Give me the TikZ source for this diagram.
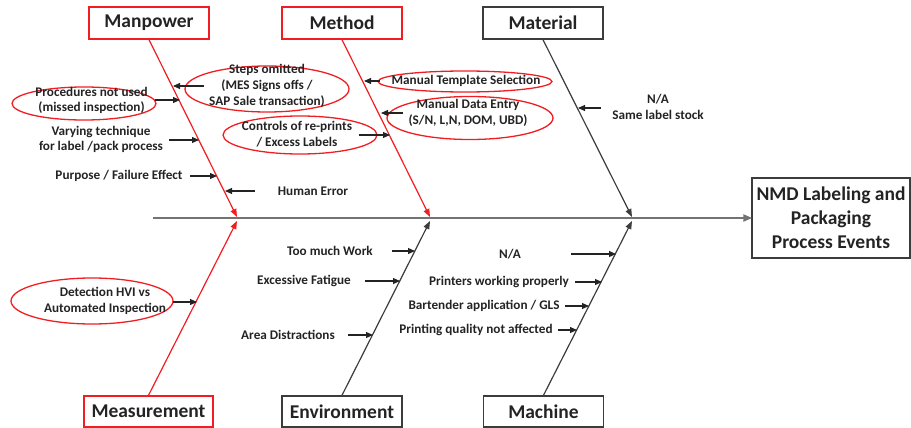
\documentclass[tikz,border=0pt]{standalone}
\usepackage{fontspec}
\setmainfont{Carlito}
\usetikzlibrary{arrows.meta,shapes.geometric}
\definecolor{fbred}{RGB}{240,30,34}
\definecolor{ink}{RGB}{35,35,35}
\definecolor{boxgray}{RGB}{60,60,60}
\definecolor{spinegray}{RGB}{115,115,115}
\begin{document}
\begin{tikzpicture}[x=1pt,y=-1pt,
  lbl/.style={font=\bfseries\fontsize{13.2}{15.8}\selectfont, text=ink, align=center, inner sep=0pt},
  cat/.style={draw, line width=1.4pt, minimum width=120pt, minimum height=32pt,
    font=\bfseries\fontsize{19.5}{24}\selectfont, text=ink, inner sep=0pt},
  redcat/.style={cat, draw=fbred},
  blkcat/.style={cat, draw=boxgray},
  oval/.style={ellipse, draw=fbred, line width=1.3pt, inner sep=0pt},
  sub/.style={line width=1.1pt, draw=ink, -{Triangle[length=7pt,width=6pt]}},
  bonered/.style={line width=1.2pt, draw=fbred, -{Triangle[length=8pt,width=6pt]}},
  boneblk/.style={line width=1.2pt, draw=boxgray, -{Triangle[length=8pt,width=6pt]}}
]
\useasboundingbox (0,0) rectangle (911,428);

% effect box and spine
\node[draw=boxgray, line width=1.4pt, minimum width=158pt, minimum height=80pt,
      align=center, inner sep=0pt, font=\bfseries\fontsize{19.5}{24}\selectfont, text=ink]
      (effect) at (831,218) {NMD Labeling and\\Packaging\\Process Events};
\coordinate (tail) at (153,218);
\draw[line width=2.4pt, draw=spinegray, -{Triangle[length=9pt,width=7pt]}, shorten >=-1pt]
  (tail) -- (effect.west);

% category boxes
\node[redcat] (manpower) at (149,23) {Manpower};
\node[redcat] (method) at (342,23) {Method};
\node[blkcat] (material) at (543,23) {Material};
\node[redcat, minimum width=129pt, minimum height=31pt] (measure) at (148.5,411.5) {Measurement};
\node[blkcat, minimum height=31pt] (environ) at (342,411.5) {Environment};
\node[blkcat, minimum height=31pt] (machine) at (543.5,411.5) {Machine};

% bone ends on the spine
\coordinate (mpEnd) at (237,217);
\coordinate (mtEnd) at (430,217);
\coordinate (maEnd) at (632,217);
\coordinate (msEnd) at (237,221);
\coordinate (enEnd) at (430,221);
\coordinate (mcEnd) at (632,221);

\draw[bonered] (manpower.south) -- (mpEnd);
\draw[bonered] (method.south) -- (mtEnd);
\draw[boneblk] (material.south) -- (maEnd);
\draw[bonered] (measure.north) -- (msEnd);
\draw[boneblk] (environ.north) -- (enEnd);
\draw[boneblk] (machine.north) -- (mcEnd);

% ---- Manpower causes
\node[oval, minimum width=164pt, minimum height=46pt] (ovSteps) at (267,89) {};
\node[lbl] (steps) at (267,86) {Steps omitted\\(MES Signs offs /\\SAP Sale transaction)};
\node[oval, minimum width=144pt, minimum height=33pt] (ovProc) at (84,103.5) {};
\node[lbl] (proc) at (91.5,100.5) {Procedures not used\\(missed inspection)};
\node[lbl] (vary) at (101,139.5) {Varying technique\\for label /pack process};
\node[lbl] (purpose) at (119,176) {Purpose / Failure Effect};
\node[lbl] (human) at (313,191) {Human Error};

\coordinate (stepsA) at (204,86);  \coordinate (stepsB) at (173,86);
\coordinate (procA) at (155,100);  \coordinate (procB) at (180,100);
\coordinate (varyA) at (169,140);  \coordinate (varyB) at (199,140);
\coordinate (purpA) at (190,176);  \coordinate (purpB) at (217,176);
\coordinate (humA) at (255,191);   \coordinate (humB) at (225,191);
\draw[sub] (stepsA) -- (stepsB);
\draw[sub] (procA) -- (procB);
\draw[sub] (varyA) -- (varyB);
\draw[sub] (purpA) -- (purpB);
\draw[sub] (humA) -- (humB);

% ---- Method causes
\node[oval, minimum width=174pt, minimum height=21pt] (ovTempl) at (465,81.5) {};
\node[lbl] (templ) at (466,81) {Manual Template Selection};
\node[oval, minimum width=166pt, minimum height=43pt] (ovData) at (470,118) {};
\node[lbl] (data) at (468,112.5) {Manual Data Entry\\(S/N, L,N, DOM, UBD)};
\node[oval, minimum width=154pt, minimum height=38pt] (ovCtrl) at (300,135) {};
\node[lbl] (ctrl) at (297,134) {Controls of re-prints\\/ Excess Labels};

\coordinate (templA) at (380,81);  \coordinate (templB) at (364,81);
\coordinate (dataA) at (403,113);  \coordinate (dataB) at (381,113);
\coordinate (ctrlA) at (359,135);  \coordinate (ctrlB) at (390,135);
\draw[sub] (templA) -- (templB);
\draw[sub] (dataA) -- (dataB);
\draw[sub] (ctrlA) -- (ctrlB);

% ---- Material causes
\node[lbl] (stock) at (658,107) {N/A\\Same label stock};
\coordinate (stockA) at (601,108); \coordinate (stockB) at (578,108);
\draw[sub] (stockA) -- (stockB);

% ---- Measurement causes
\node[oval, minimum width=162pt, minimum height=46pt] (ovHvi) at (92,301) {};
\node[lbl] (hvi) at (105,301) {Detection HVI vs\\Automated Inspection};
\coordinate (hviA) at (173,302); \coordinate (hviB) at (197,302);
\draw[sub] (hviA) -- (hviB);

% ---- Environment causes
\node[lbl] (work) at (330,251) {Too much Work};
\node[lbl] (fatigue) at (304,281) {Excessive Fatigue};
\node[lbl] (distract) at (288,335) {Area Distractions};
\coordinate (workA) at (392,251);  \coordinate (workB) at (415,251);
\coordinate (fatA) at (365,281);   \coordinate (fatB) at (400,281);
\coordinate (disA) at (348,335);   \coordinate (disB) at (373,335);
\draw[sub] (workA) -- (workB);
\draw[sub] (fatA) -- (fatB);
\draw[sub] (disA) -- (disB);

% ---- Machine causes
\node[lbl] (mna) at (510,254) {N/A};
\node[lbl] (printers) at (499,282) {Printers working properly};
\node[lbl] (bartender) at (484,306) {Bartender application / GLS};
\node[lbl] (quality) at (476,330) {Printing quality not affected};
\coordinate (mnaA) at (571,254);   \coordinate (mnaB) at (616,254);
\coordinate (prA) at (575,282);    \coordinate (prB) at (602,282);
\coordinate (btA) at (565,306);    \coordinate (btB) at (589,306);
\coordinate (qlA) at (558,330);    \coordinate (qlB) at (577,330);
\draw[sub] (mnaA) -- (mnaB);
\draw[sub] (prA) -- (prB);
\draw[sub] (btA) -- (btB);
\draw[sub] (qlA) -- (qlB);
\end{tikzpicture}
\end{document}
